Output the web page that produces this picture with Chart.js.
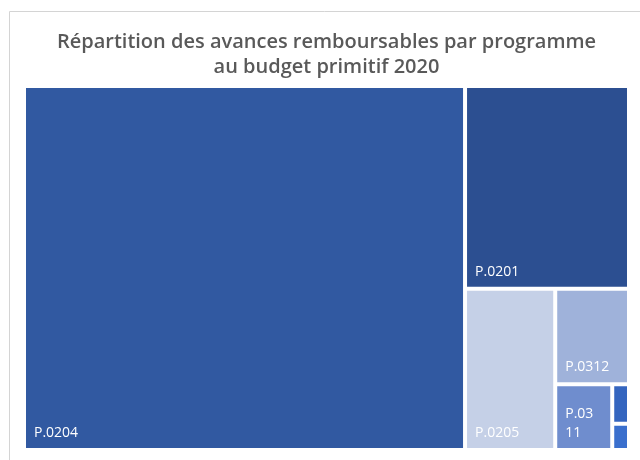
<!DOCTYPE html>
<html>
<head>
<meta charset="utf-8">
<script src="https://cdn.jsdelivr.net/npm/chart.js@4.4.0/dist/chart.umd.min.js"></script>
<style>
  html, body { margin: 0; padding: 0; background: #fff; }
  #wrap { width: 640px; height: 460px; }
</style>
</head>
<body>
<div id="wrap"><canvas id="treeChart"></canvas></div>
<script>
// programmes and their share of the repayable advances (% of total)
const programmes = ['P.0204', 'P.0201', 'P.0205', 'P.0312', 'P.0311', 'P.0313', 'P.0206'];
const shares = [72.9, 15.1, 6.6, 3.2, 1.7, 0.3, 0.2];
const cellColors = ['#3159a1', '#2c4f91', '#c5d0e7', '#9fb2da', '#6f8dce', '#3465bf', '#3a6fcd'];
const titleLines = ['Répartition des avances remboursables par programme', 'au budget primitif 2020'];

// squarified layout, returns cells in 0..1 units of the plot area
function squarify(values, w, h) {
  const total = values.reduce((a, b) => a + b, 0);
  const scale = (w * h) / total;
  const items = values.map((v, i) => ({ i, a: v * scale }));
  const cells = [];
  let x = 0, y = 0, rw = w, rh = h;
  const worst = (row, side) => {
    const s = row.reduce((a, r) => a + r.a, 0);
    let m = 0;
    row.forEach(r => {
      const len = s / side, other = r.a / len;
      m = Math.max(m, len / other, other / len);
    });
    return m;
  };
  let k = 0;
  while (k < items.length) {
    const side = Math.min(rw, rh);
    let row = [items[k++]];
    while (k < items.length && worst(row.concat(items[k]), side) <= worst(row, side)) {
      row.push(items[k++]);
    }
    const s = row.reduce((a, r) => a + r.a, 0);
    const thick = s / side;
    let pos = 0;
    row.forEach(r => {
      const len = r.a / thick;
      if (rw >= rh) {
        cells[r.i] = { x0: x, x1: x + thick, y0: y + pos, y1: y + pos + len };
      } else {
        cells[r.i] = { x0: x + pos, x1: x + pos + len, y0: y, y1: y + thick };
      }
      pos += len;
    });
    if (rw >= rh) { x += thick; rw -= thick; } else { y += thick; rh -= thick; }
  }
  return cells.map(c => ({ x0: c.x0 / w, x1: c.x1 / w, y0: c.y0 / h, y1: c.y1 / h }));
}

class TreemapController extends Chart.DatasetController {
  update(mode) {
    const meta = this._cachedMeta;
    this.updateElements(meta.data, 0, meta.data.length, mode);
  }
  updateElements(rects, start, count, mode) {
    const area = this.chart.chartArea;
    if (!area) return;
    const { xScale, yScale } = this._cachedMeta;
    const cells = squarify(this.getDataset().data, area.right - area.left, area.bottom - area.top);
    for (let i = start; i < start + count; i++) {
      const c = cells[i];
      const left = xScale.getPixelForValue(c.x0);
      const right = xScale.getPixelForValue(c.x1);
      const top = yScale.getPixelForValue(c.y0);
      const bottom = yScale.getPixelForValue(c.y1);
      this.updateElement(rects[i], i, {
        x: (left + right) / 2,
        y: top,
        base: bottom,
        width: right - left,
        height: bottom - top,
        horizontal: false,
        inflateAmount: 0,
        borderSkipped: {},
        options: this.resolveDataElementOptions(i, mode)
      }, mode);
    }
  }
}
TreemapController.id = 'treemap';
TreemapController.defaults = { datasetElementType: false, dataElementType: 'bar' };
Chart.register(TreemapController);

// programme names written in the bottom-left corner of each cell
const cellLabels = {
  id: 'cellLabels',
  afterDatasetsDraw(chart) {
    const ctx = chart.ctx;
    const meta = chart.getDatasetMeta(0);
    ctx.save();
    ctx.font = '14px "Open Sans"';
    ctx.fillStyle = '#ffffff';
    ctx.textBaseline = 'alphabetic';
    meta.data.forEach((rect, i) => {
      const { x, base, width } = rect.getProps(['x', 'base', 'width']);
      const left = x - width / 2 + 2;
      const inner = width - 4;
      if (inner < 30) return;
      const maxW = inner - 20;
      const text = programmes[i];
      const lines = [];
      let cur = '';
      for (const ch of text) {
        if (cur && ctx.measureText(cur + ch).width > maxW) { lines.push(cur); cur = ch; }
        else cur += ch;
      }
      lines.push(cur);
      const lh = 19;
      let by = base - 2 - 11 - (lines.length - 1) * lh;
      lines.forEach(l => { ctx.fillText(l, left + 8, by); by += lh; });
    });
    ctx.restore();
  }
};

// thin frame around the figure
const frame = {
  id: 'frame',
  beforeDraw(chart) {
    const ctx = chart.ctx;
    ctx.save();
    ctx.strokeStyle = '#d4d4d4';
    ctx.lineWidth = 1;
    ctx.beginPath();
    ctx.moveTo(9.5, 460);
    ctx.lineTo(9.5, 11.5);
    ctx.lineTo(640, 11.5);
    ctx.stroke();
    ctx.restore();
  }
};

new Chart(document.getElementById('treeChart'), {
  type: 'treemap',
  data: {
    labels: programmes,
    datasets: [{
      data: shares,
      backgroundColor: cellColors,
      borderColor: '#ffffff',
      borderWidth: 2
    }]
  },
  options: {
    responsive: true,
    maintainAspectRatio: false,
    animation: false,
    events: [],
    layout: { padding: { left: 24, right: 11, top: 0, bottom: 10 } },
    scales: {
      x: { type: 'linear', min: 0, max: 1, display: false },
      y: { type: 'linear', min: 0, max: 1, reverse: true, display: false }
    },
    plugins: {
      legend: { display: false },
      tooltip: { enabled: false },
      title: {
        display: true,
        text: titleLines,
        color: '#595959',
        font: { family: '"Open Sans"', size: 20, weight: '600', lineHeight: 1.25 },
        padding: { top: 30, bottom: 6 }
      }
    }
  },
  plugins: [cellLabels, frame]
});
</script>
</body>
</html>
